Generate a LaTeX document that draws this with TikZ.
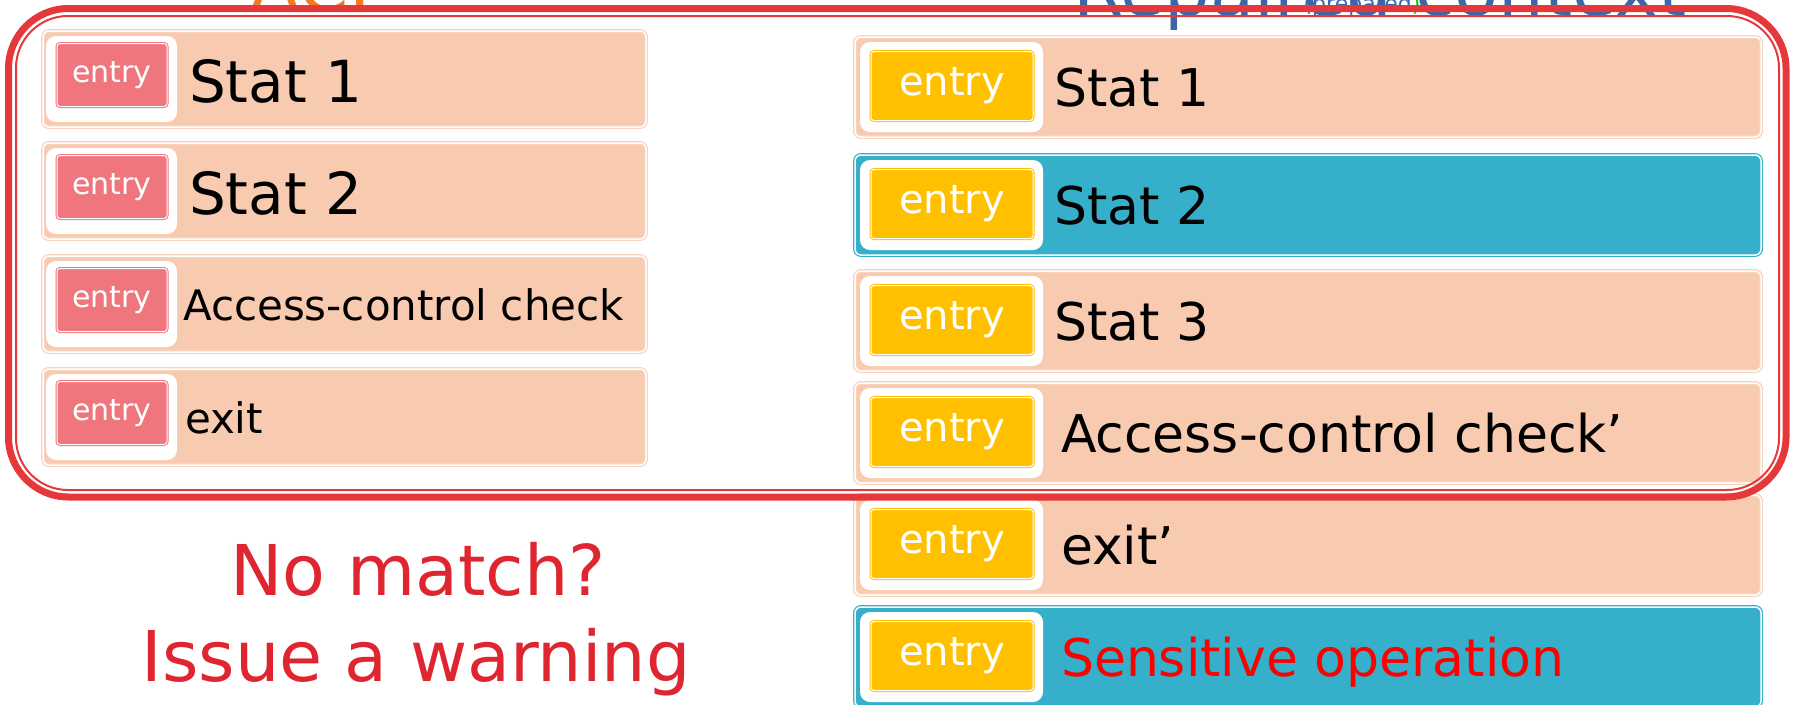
\documentclass[tikz,border=0pt]{standalone}
\usepackage{fontspec}
\setmainfont{DejaVu Sans}
\usepackage{tikz}
\usetikzlibrary{positioning}
\usepackage[x11names, svgnames, rgb]{xcolor}

\definecolor{peach}{HTML}{F8CBB1}
\definecolor{peachline}{HTML}{F9D2BC}
\definecolor{stmtblue}{HTML}{35AFCA}
\definecolor{entrypink}{HTML}{EE767C}
\definecolor{entryyellow}{HTML}{FFC000}
\definecolor{framered}{HTML}{E5383B}
\definecolor{warnred}{HTML}{DF2530}
\definecolor{titleorange}{HTML}{F07B24}
\definecolor{titleblue}{HTML}{3C66A6}

\newcommand{\statbig}{\fontsize{58}{60}\selectfont}
\newcommand{\statsmall}{\fontsize{42}{44}\selectfont}
\newcommand{\statright}{\fontsize{52}{54}\selectfont}
\newcommand{\entryleft}{\fontsize{30}{32}\selectfont}
\newcommand{\entryright}{\fontsize{40}{42}\selectfont}
\newcommand{\warnfont}{\fontsize{70}{72}\selectfont}
\newcommand{\titlefont}{\fontsize{72}{74}\selectfont}

\begin{document}
\begin{tikzpicture}[
			x=1pt, y=-1pt,
			every node/.style={
					inner sep=0pt,
					outer sep=0pt
				},
			stmt/.style={
					draw=peachline, double=white, double distance=1.5pt,
					line width=1.2pt, fill=peach, rounded corners=6pt
				},
			stmtb/.style={
					stmt, draw=stmtblue, fill=stmtblue
				},
			leftrow/.style={minimum width=603pt, minimum height=96pt},
			rightrow/.style={minimum width=906pt, minimum height=100pt},
			capl/.style={fill=white, rounded corners=10pt, minimum width=131pt, minimum height=86pt},
			capr/.style={fill=white, rounded corners=10pt, minimum width=183pt, minimum height=90pt},
			entryl/.style={
					draw=entrypink, double=white, double distance=1pt, line width=1pt,
					fill=entrypink, rounded corners=3pt, text=white, font=\entryleft,
					minimum width=110pt, minimum height=63pt
				},
			entryr/.style={
					entryl, draw=entryyellow, fill=entryyellow, font=\entryright,
					minimum width=162pt, minimum height=69pt
				}
		]
		\clip (0,0) rectangle (1793,704);

		% titles, cut by the top edge
		\node[anchor=base, text=titleorange, font=\titlefont] (acl) at (320, 11) {ACL};
		\node[anchor=base, text=titleblue, font=\titlefont] (repaired) at (1380, 16) {Repaired context};
		\node[anchor=base, text=titleblue, font=\fontsize{22}{22}\selectfont] (prep) at (1362, 12) {(prepared\textcolor{Green3}{)}};

		% left column
		\node[stmt, leftrow] (l1) at (344.5, 79) {};
		\node[stmt, leftrow] (l2) at (344.5, 191) {};
		\node[stmt, leftrow] (l3) at (344.5, 304) {};
		\node[stmt, leftrow] (l4) at (344.5, 417) {};

		\node[capl] (cl1) at (111.5, 79) {};
		\node[capl] (cl2) at (111.5, 191) {};
		\node[capl] (cl3) at (111.5, 304) {};
		\node[capl] (cl4) at (111.5, 417) {};

		\node[entryl] (el1) at (112, 75) {entry};
		\node[entryl] (el2) at (112, 187) {entry};
		\node[entryl] (el3) at (112, 300) {entry};
		\node[entryl] (el4) at (112, 413) {entry};

		\node[anchor=base west, font=\statbig] (tl1) at (189, 102) {Stat 1};
		\node[anchor=base west, font=\statbig] (tl2) at (189, 214) {Stat 2};
		\node[anchor=base west, font=\statsmall] (tl3) at (183, 320) {Access-control check};
		\node[anchor=base west, font=\statsmall] (tl4) at (185, 433) {exit};

		% right column
		\node[stmt, rightrow] (r1) at (1308, 87) {};
		\node[stmtb, rightrow] (r2) at (1308, 205) {};
		\node[stmt, rightrow] (r3) at (1308, 321) {};
		\node[stmt, rightrow] (r4) at (1308, 433) {};
		\node[stmt, rightrow] (r5) at (1308, 545) {};
		\node[stmtb, rightrow] (r6) at (1308, 657) {};

		\node[capr] (cr1) at (951.5, 87) {};
		\node[capr] (cr2) at (951.5, 205) {};
		\node[capr] (cr3) at (951.5, 321) {};
		\node[capr] (cr4) at (951.5, 433) {};
		\node[capr] (cr5) at (951.5, 545) {};
		\node[capr] (cr6) at (951.5, 657) {};

		\node[entryr] (er1) at (952, 86) {entry};
		\node[entryr] (er2) at (952, 204) {entry};
		\node[entryr] (er3) at (952, 320) {entry};
		\node[entryr] (er4) at (952, 432) {entry};
		\node[entryr] (er5) at (952, 544) {entry};
		\node[entryr] (er6) at (952, 656) {entry};

		\node[anchor=base west, font=\statright] (tr1) at (1054, 106) {Stat 1};
		\node[anchor=base west, font=\statright] (tr2) at (1054, 224) {Stat 2};
		\node[anchor=base west, font=\statright] (tr3) at (1054, 340) {Stat 3};
		\node[anchor=base west, font=\statright] (tr4) at (1061, 452) {Access-control check’};
		\node[anchor=base west, font=\statright] (tr5) at (1061, 564) {exit’};
		\node[anchor=base west, font=\statright, text=red] (tr6) at (1061, 676) {Sensitive operation};

		% warning
		\node[anchor=base, text=warnred, font=\warnfont] (nomatch) at (418, 595) {No match?};
		\node[anchor=base, text=warnred, font=\warnfont] (issue) at (416, 681) {Issue a warning};

		% red frame
		\draw[framered, line width=7pt, rounded corners=60pt] (8.5, 8.5) rectangle (1786, 497);
		\draw[framered, line width=2pt, rounded corners=52pt] (16, 16) rectangle (1779, 490);
	\end{tikzpicture}
\end{document}
